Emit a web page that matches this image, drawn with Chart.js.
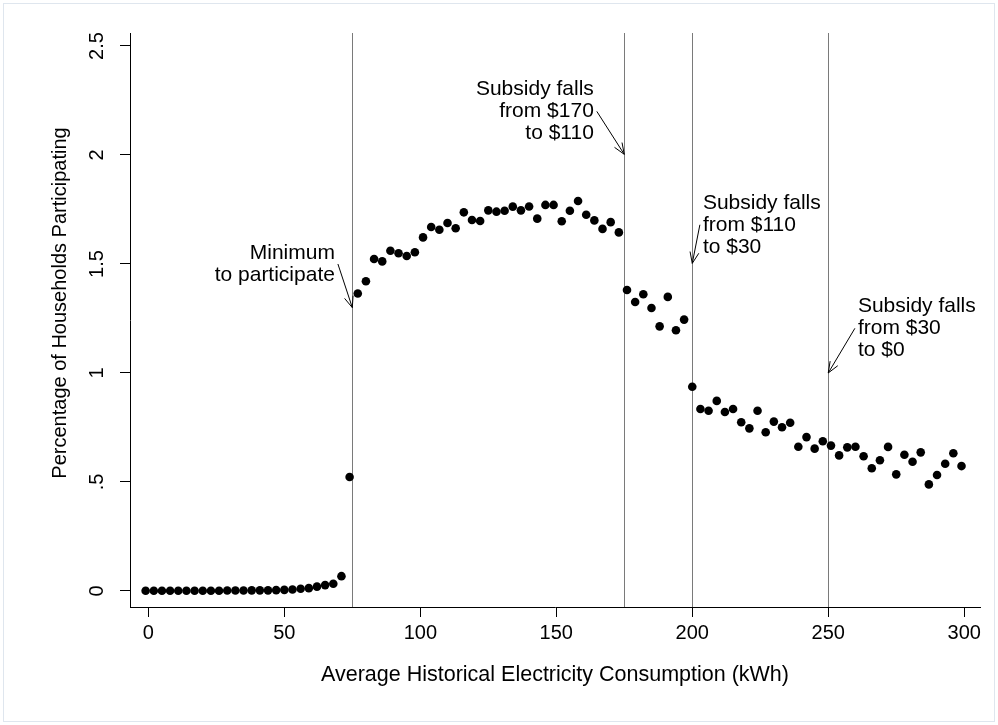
<!DOCTYPE html>
<html>
<head>
<meta charset="utf-8">
<script src="https://cdn.jsdelivr.net/npm/chart.js@4.4.1/dist/chart.umd.min.js"></script>
<style>
  html, body { margin: 0; padding: 0; background: #fff; }
  #wrap { width: 998px; height: 725px; }
</style>
</head>
<body>
<div id="wrap"><canvas id="statChart" width="998" height="725"></canvas></div>
<script>
// bin midpoints (kWh)
var consumption = [
  -1, 2, 5, 8, 11, 14, 17, 20, 23, 26, 29, 32, 35, 38, 41, 44, 47, 50, 53, 56,
  59, 62, 65, 68, 71, 74, 77, 80, 83, 86, 89, 92, 95, 98, 101, 104, 107, 110, 113, 116,
  119, 122, 125, 128, 131, 134, 137, 140, 143, 146, 149, 152, 155, 158, 161, 164, 167, 170, 173, 176,
  179, 182, 185, 188, 191, 194, 197, 200, 203, 206, 209, 212, 215, 218, 221, 224, 227, 230, 233, 236,
  239, 242, 245, 248, 251, 254, 257, 260, 263, 266, 269, 272, 275, 278, 281, 284, 287, 290, 293, 296,
  299
];
// percentage of households participating
var participation = [
  0.001, 0.001, 0.001, 0.001, 0.001, 0.001, 0.001, 0.001, 0.001, 0.001,
  0.002, 0.002, 0.002, 0.003, 0.003, 0.003, 0.004, 0.005, 0.007, 0.010,
  0.013, 0.020, 0.027, 0.033, 0.068, 0.523, 1.365, 1.421, 1.523, 1.512,
  1.561, 1.549, 1.537, 1.554, 1.622, 1.670, 1.657, 1.688, 1.664, 1.737,
  1.702, 1.697, 1.746, 1.740, 1.744, 1.763, 1.746, 1.764, 1.708, 1.771,
  1.771, 1.696, 1.744, 1.789, 1.726, 1.700, 1.661, 1.692, 1.645, 1.381,
  1.326, 1.361, 1.298, 1.214, 1.349, 1.196, 1.245, 0.937, 0.835, 0.827,
  0.872, 0.821, 0.835, 0.774, 0.746, 0.827, 0.728, 0.777, 0.751, 0.772,
  0.662, 0.706, 0.653, 0.687, 0.667, 0.622, 0.659, 0.662, 0.618, 0.563,
  0.600, 0.661, 0.535, 0.625, 0.593, 0.636, 0.489, 0.532, 0.584, 0.632,
  0.573
];
var xTicks = [0, 50, 100, 150, 200, 250, 300];
var yTicks = [0, 0.5, 1, 1.5, 2, 2.5];
var yTickLabels = ['0', '.5', '1', '1.5', '2', '2.5'];
var cutoffs = [75, 175, 200, 250];
var noteTexts = [
  ['Minimum', 'to participate'],
  ['Subsidy falls', 'from $170', 'to $110'],
  ['Subsidy falls', 'from $110', 'to $30'],
  ['Subsidy falls', 'from $30', 'to $0']
];
// arrow from (x0,y0) to (x1,y1) in data units, text on side
var noteArrows = [
  { x0: 69.7, y0: 1.50, x1: 75, y1: 1.30, side: 'right' },
  { x0: 164.9, y0: 2.20, x1: 175, y1: 2.003, side: 'right' },
  { x0: 202.8, y0: 1.68, x1: 200, y1: 1.503, side: 'left' },
  { x0: 259.8, y0: 1.205, x1: 250, y1: 1.0, side: 'left' }
];

var FONT = '"Liberation Sans", Arial, Helvetica, sans-serif';

var points = consumption.map(function (c, i) { return { x: c, y: participation[i] }; });

var stataPlugin = {
  id: 'stata',
  beforeDraw: function (chart) {
    var ctx = chart.ctx;
    ctx.save();
    ctx.fillStyle = '#fff';
    ctx.fillRect(0, 0, chart.width, chart.height);
    ctx.strokeStyle = '#dfe6ee';
    ctx.lineWidth = 1;
    ctx.strokeRect(3.5, 3.5, chart.width - 7, chart.height - 7);
    ctx.restore();
  },
  beforeDatasetsDraw: function (chart) {
    var ctx = chart.ctx, area = chart.chartArea, xs = chart.scales.x;
    ctx.save();
    ctx.strokeStyle = '#7a7a7a';
    ctx.lineWidth = 1;
    cutoffs.forEach(function (c) {
      var px = Math.round(xs.getPixelForValue(c)) + 0.5;
      ctx.beginPath();
      ctx.moveTo(px, area.top);
      ctx.lineTo(px, area.bottom);
      ctx.stroke();
    });
    ctx.restore();
  },
  afterDraw: function (chart) {
    var ctx = chart.ctx, area = chart.chartArea;
    var xs = chart.scales.x, ys = chart.scales.y;
    ctx.save();
    ctx.fillStyle = '#000';
    ctx.font = '20px ' + FONT;

    // x tick labels
    ctx.textAlign = 'center';
    ctx.textBaseline = 'middle';
    xTicks.forEach(function (v) {
      ctx.fillText(String(v), xs.getPixelForValue(v), 633);
    });
    // y tick labels, rotated
    yTicks.forEach(function (v, i) {
      ctx.save();
      ctx.translate(97, ys.getPixelForValue(v));
      ctx.rotate(-Math.PI / 2);
      ctx.fillText(yTickLabels[i], 0, 0);
      ctx.restore();
    });
    // axis titles
    ctx.save();
    ctx.translate(60, 303);
    ctx.rotate(-Math.PI / 2);
    ctx.fillText('Percentage of Households Participating', 0, 0);
    ctx.restore();
    ctx.font = '21.5px ' + FONT;
    ctx.fillText('Average Historical Electricity Consumption (kWh)', 555, 675);

    // annotations
    ctx.strokeStyle = '#000';
    ctx.lineWidth = 1;
    ctx.font = '21px ' + FONT;
    noteArrows.forEach(function (a, i) {
      var sx = xs.getPixelForValue(a.x0), sy = ys.getPixelForValue(a.y0);
      var tx = xs.getPixelForValue(a.x1), ty = ys.getPixelForValue(a.y1);
      ctx.beginPath();
      ctx.moveTo(sx, sy);
      ctx.lineTo(tx, ty);
      var ang = Math.atan2(ty - sy, tx - sx), len = 12, spread = 0.38;
      ctx.moveTo(tx - len * Math.cos(ang - spread), ty - len * Math.sin(ang - spread));
      ctx.lineTo(tx, ty);
      ctx.lineTo(tx - len * Math.cos(ang + spread), ty - len * Math.sin(ang + spread));
      ctx.stroke();

      var lines = noteTexts[i], lh = 22;
      var top = sy - (lines.length - 1) * lh / 2;
      ctx.textAlign = a.side === 'right' ? 'right' : 'left';
      var lx = a.side === 'right' ? sx - 3 : sx + 3;
      lines.forEach(function (t, k) {
        ctx.fillText(t, lx, top + k * lh);
      });
    });
    ctx.restore();
  }
};

var ctx = document.getElementById('statChart').getContext('2d');
var chart = new Chart(ctx, {
  type: 'scatter',
  data: {
    datasets: [{
      label: 'Participation',
      data: points,
      backgroundColor: '#000',
      borderColor: '#000',
      borderWidth: 0,
      pointRadius: 4.3,
      pointHoverRadius: 4.3
    }]
  },
  options: {
    responsive: false,
    animation: false,
    devicePixelRatio: 1,
    layout: { padding: { top: 33, right: 18, left: 0, bottom: 0 } },
    plugins: { legend: { display: false }, tooltip: { enabled: false } },
    scales: {
      x: {
        type: 'linear',
        min: -6.75,
        max: 305.8,
        afterBuildTicks: function (s) { s.ticks = xTicks.map(function (v) { return { value: v }; }); },
        afterFit: function (s) { s.height = 118; },
        ticks: { display: false },
        grid: { display: true, drawOnChartArea: false, drawTicks: true, tickLength: 10, tickColor: '#000' },
        border: { display: true, color: '#000', width: 1 }
      },
      y: {
        type: 'linear',
        min: -0.0734,
        max: 2.5596,
        afterBuildTicks: function (s) { s.ticks = yTicks.map(function (v) { return { value: v }; }); },
        afterFit: function (s) { s.width = 130; },
        ticks: { display: false },
        grid: { display: true, drawOnChartArea: false, drawTicks: true, tickLength: 10, tickColor: '#000' },
        border: { display: true, color: '#000', width: 1 }
      }
    }
  },
  plugins: [stataPlugin]
});
</script>
</body>
</html>
